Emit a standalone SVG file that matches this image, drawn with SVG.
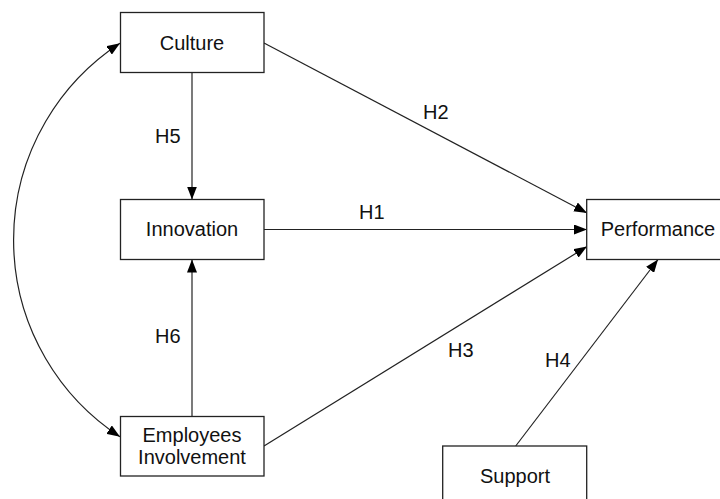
<svg xmlns="http://www.w3.org/2000/svg" width="720" height="499" viewBox="0 0 720 499">
<defs>
<marker id="arr" viewBox="0 0 13 10" refX="13" refY="5" markerWidth="13" markerHeight="10" markerUnits="userSpaceOnUse" orient="auto-start-reverse">
<path d="M0,0 L13,5 L0,10 z" fill="#000"/>
</marker>
<style>
.box{fill:#fff;stroke:#222;stroke-width:1.3}
.t{font-family:"Liberation Sans",Arial,sans-serif;font-size:20px;fill:#111;text-anchor:middle}
.l{font-family:"Liberation Sans",Arial,sans-serif;font-size:20px;fill:#111}
.c{fill:none;stroke:#222;stroke-width:1.2;marker-end:url(#arr)}
</style>
</defs>
<rect width="720" height="499" fill="#fff"/>
<g id="connectors">
<line class="c" x1="192" y1="72.5" x2="192" y2="199.5"/>
<line class="c" x1="192" y1="416.5" x2="192" y2="259.5"/>
<line class="c" x1="264" y1="43" x2="587" y2="213"/>
<line class="c" x1="264" y1="229.5" x2="587" y2="229.5"/>
<line class="c" x1="264" y1="446" x2="587" y2="246.5"/>
<line class="c" x1="515.7" y1="446" x2="658" y2="259.5"/>
<path class="c" style="marker-start:url(#arr)" d="M120,43.3 A235,235 0 0 0 120,436.7"/>
<text class="l" x="423" y="119">H2</text>
<text class="l" x="155" y="143">H5</text>
<text class="l" x="359" y="219">H1</text>
<text class="l" x="155" y="343">H6</text>
<text class="l" x="448" y="357">H3</text>
<text class="l" x="545" y="367">H4</text>
</g>
<g id="culture">
<rect class="box" x="120.5" y="12.5" width="143.5" height="60"/>
<text class="t" x="192" y="49.5">Culture</text>
</g>
<g id="innovation">
<rect class="box" x="120.5" y="199.5" width="143.5" height="60"/>
<text class="t" x="192" y="236">Innovation</text>
</g>
<g id="employees">
<rect class="box" x="120.5" y="416.5" width="143.5" height="59.5"/>
<text class="t" x="192" y="441.5">Employees</text>
<text class="t" x="192" y="463.5">Involvement</text>
</g>
<g id="performance">
<rect class="box" x="586.7" y="199.5" width="143.5" height="60"/>
<text class="t" x="658" y="236">Performance</text>
</g>
<g id="support">
<rect class="box" x="442.7" y="446" width="144" height="60"/>
<text class="t" x="515" y="482.5">Support</text>
</g>
</svg>
